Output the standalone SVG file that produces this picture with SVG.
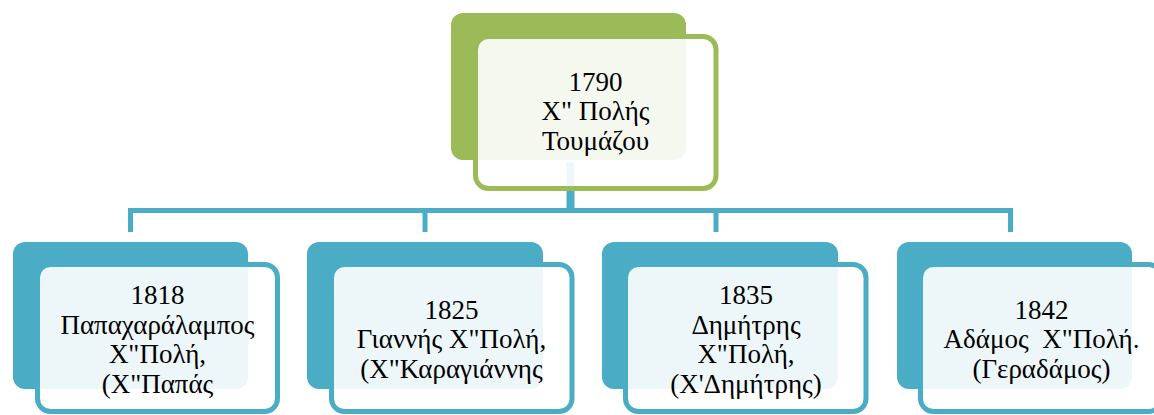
<svg xmlns="http://www.w3.org/2000/svg" width="1154" height="415" viewBox="0 0 1154 415">
<style>
.bg{fill:#FFFFFF}
.backG{fill:#9BBB59}
.frontG{fill:#FFFFFF;fill-opacity:0.9;stroke:#9BBB59;stroke-width:5}
.backB{fill:#4BACC6}
.frontB{fill:#FFFFFF;fill-opacity:0.9;stroke:#4BACC6;stroke-width:5}
.conn{fill:none;stroke:#4BACC6;stroke-width:5}
.t{font-family:'Liberation Serif',serif;font-size:27px;fill:#000000;text-anchor:middle;white-space:pre}
</style>
<rect class="bg" x="0" y="0" width="1154" height="415"/>
<g id="connectors">
<line class="conn" x1="570.5" y1="162" x2="570.5" y2="212" style="stroke-width:8"/>
<polyline class="conn" points="130.5,232 130.5,210.5 1010.5,210.5 1010.5,232"/>
<line class="conn" x1="425" y1="210.5" x2="425" y2="232"/>
<line class="conn" x1="716" y1="210.5" x2="716" y2="232"/>
</g>
<g id="n1790">
<rect class="backG" x="451" y="13" width="235" height="147" rx="12"/>
<rect class="frontG" x="475.5" y="36.5" width="240.5" height="152" rx="13"/>
<text class="t" x="595.5" y="90.5">1790</text>
<text class="t" x="595.5" y="120">Χ" Πολής</text>
<text class="t" x="595.5" y="149.5">Τουμάζου</text>
</g>
<g id="n1818">
<rect class="backB" x="13" y="242" width="235" height="147" rx="12"/>
<rect class="frontB" x="37.5" y="264.5" width="240" height="147" rx="13"/>
<text class="t" x="157.5" y="304">1818</text>
<text class="t" x="157.5" y="333.5">Παπαχαράλαμπος</text>
<text class="t" x="157.5" y="363">Χ"Πολή,</text>
<text class="t" x="157.5" y="392.5">(Χ"Παπάς</text>
</g>
<g id="n1825">
<rect class="backB" x="307" y="242" width="236" height="147" rx="12"/>
<rect class="frontB" x="331.5" y="264.5" width="240.5" height="147" rx="13"/>
<text class="t" x="451.5" y="318.5">1825</text>
<text class="t" x="451.5" y="348">Γιαννής Χ"Πολή,</text>
<text class="t" x="451.5" y="377.5">(Χ"Καραγιάννης</text>
</g>
<g id="n1835">
<rect class="backB" x="602" y="242" width="236" height="147" rx="12"/>
<rect class="frontB" x="625.5" y="264.5" width="240.5" height="147" rx="13"/>
<text class="t" x="746" y="304">1835</text>
<text class="t" x="746" y="333.5">Δημήτρης</text>
<text class="t" x="746" y="363">Χ"Πολή,</text>
<text class="t" x="746" y="392.5">(Χ'Δημήτρης)</text>
</g>
<g id="n1842">
<rect class="backB" x="897" y="242" width="235" height="147" rx="12"/>
<rect class="frontB" x="920.5" y="264.5" width="241" height="147" rx="13"/>
<text class="t" x="1041.5" y="318.5">1842</text>
<text class="t" x="1041.5" y="348">Αδάμος  Χ"Πολή.</text>
<text class="t" x="1041.5" y="377.5">(Γεραδάμος)</text>
</g>
</svg>
